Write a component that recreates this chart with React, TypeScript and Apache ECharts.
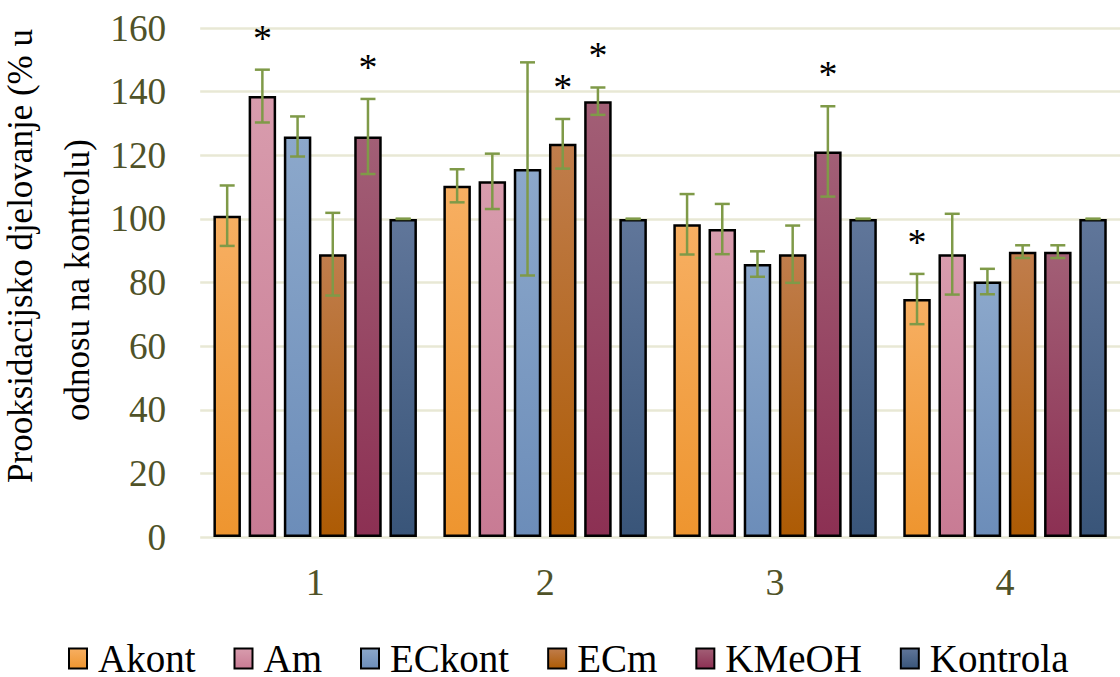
import React, { useEffect, useRef } from "react";
import * as echarts from "echarts";

const categories = ["1", "2", "3", "4"];
const seriesNames = ["Akont", "Am", "ECkont", "ECm", "KMeOH", "Kontrola"];

const akont = [101.0, 110.4, 98.3, 74.8];
const am = [138.6, 111.8, 96.8, 88.9];
const eckont = [125.9, 115.7, 85.8, 80.3];
const ecm = [88.9, 123.6, 88.9, 89.7];
const kmeoh = [125.9, 137.0, 121.2, 89.7];
const kontrola = [100, 100, 100, 100];

const akontErr = [9.5, 5.2, 9.5, 7.9];
const amErr = [8.3, 8.7, 7.9, 12.7];
const eckontErr = [6.3, 33.5, 4.0, 4.0];
const ecmErr = [13.0, 7.8, 9.0, 2.0];
const kmeohErr = [11.8, 4.3, 14.2, 2.0];
const kontrolaErr = [0, 0, 0, 0];

// 1 = marked with an asterisk (significant)
const akontSig = [0, 0, 0, 1];
const amSig = [1, 0, 0, 0];
const eckontSig = [0, 0, 0, 0];
const ecmSig = [0, 1, 0, 0];
const kmeohSig = [1, 1, 1, 0];
const kontrolaSig = [0, 0, 0, 0];

const yTicks = { min: 0, max: 160, interval: 20 };

const FONT = "'Liberation Serif', 'Times New Roman', serif";
const gradients: [string, string][] = [
  ["#F7AF62", "#EE952F"],
  ["#D89CAD", "#C87B94"],
  ["#8CA8CB", "#6C8DB9"],
  ["#C07D4C", "#AD5B04"],
  ["#A25F76", "#8C3053"],
  ["#60769A", "#395579"],
];

const BAR_W = 27.5;
const BAR_GAP = 0.28;
const STEP = BAR_W * (1 + BAR_GAP);
const ERR_COLOR = "#7F9A48";

export default function App() {
  const ref = useRef<HTMLDivElement>(null);
  useEffect(() => {
    if (!ref.current) return;
    const chart = echarts.init(ref.current, null, { renderer: "svg" });
    const values = [akont, am, eckont, ecm, kmeoh, kontrola];
    const errs = [akontErr, amErr, eckontErr, ecmErr, kmeohErr, kontrolaErr];
    const sigs = [akontSig, amSig, eckontSig, ecmSig, kmeohSig, kontrolaSig];

    const barSeries = seriesNames.map((name, si) => ({
      name,
      type: "bar",
      data: values[si],
      barWidth: BAR_W,
      barGap: `${BAR_GAP * 100}%`,
      itemStyle: {
        color: new echarts.graphic.LinearGradient(0, 0, 0, 1, [
          { offset: 0, color: gradients[si][0] },
          { offset: 1, color: gradients[si][1] },
        ]),
        borderColor: "#000",
        borderWidth: 2.5,
      },
    }));

    const errData: number[][] = [];
    seriesNames.forEach((_, si) => {
      categories.forEach((_, ci) => {
        errData.push([ci, values[si][ci], errs[si][ci], si, sigs[si][ci]]);
      });
    });

    const titleStyle = {
      fontFamily: FONT,
      fontSize: 35,
      fill: "#000",
      textAlign: "center",
      textVerticalAlign: "middle",
    };

    const option: any = {
      animation: false,
      backgroundColor: "#fff",
      textStyle: { fontFamily: FONT },
      grid: { left: 200.2, right: -8.5, top: 28, bottom: 140 },
      xAxis: {
        type: "category",
        data: categories,
        axisLine: { show: false },
        axisTick: { show: false },
        axisLabel: { color: "#4F5228", fontFamily: FONT, fontSize: 38, margin: 26 },
      },
      yAxis: {
        type: "value",
        min: yTicks.min,
        max: yTicks.max,
        interval: yTicks.interval,
        axisLine: { show: false },
        axisTick: { show: false },
        splitLine: { lineStyle: { color: "#E8E8D5", width: 2.5 } },
        axisLabel: { color: "#4F5228", fontFamily: FONT, fontSize: 37.3, margin: 34 },
      },
      legend: {
        data: seriesNames,
        left: 68,
        top: 639,
        padding: 0,
        icon: "rect",
        itemWidth: 18,
        itemHeight: 20,
        itemGap: 38,
        textStyle: {
          color: "#000",
          fontFamily: FONT,
          fontSize: 39,
          padding: [0, 0, 0, 6],
        },
      },
      graphic: [
        {
          type: "text",
          x: 20,
          y: 256,
          rotation: Math.PI / 2,
          style: { ...titleStyle, text: "Prooksidacijsko djelovanje (% u" },
        },
        {
          type: "text",
          x: 77,
          y: 280,
          rotation: Math.PI / 2,
          style: { ...titleStyle, text: "odnosu na kontrolu)" },
        },
      ],
      series: [
        ...barSeries,
        {
          name: "errors",
          type: "custom",
          z: 5,
          encode: { x: 0, y: 1 },
          data: errData,
          renderItem: (params: any, api: any) => {
            const ci = api.value(0);
            const v = api.value(1);
            const e = api.value(2);
            const si = api.value(3);
            const sig = api.value(4);
            const hi = api.coord([ci, v + e]);
            const lo = api.coord([ci, v - e]);
            const x = hi[0] + (si - 2.5) * STEP;
            const style = { stroke: ERR_COLOR, lineWidth: 2.5 };
            const children: any[] = [
              { type: "line", shape: { x1: x, y1: hi[1], x2: x, y2: lo[1] }, style },
              { type: "line", shape: { x1: x - 7.5, y1: hi[1], x2: x + 7.5, y2: hi[1] }, style },
              { type: "line", shape: { x1: x - 7.5, y1: lo[1], x2: x + 7.5, y2: lo[1] }, style },
            ];
            if (sig) {
              children.push({
                type: "text",
                x,
                y: hi[1] - 32,
                style: {
                  text: "*",
                  fontFamily: FONT,
                  fontSize: 38,
                  fill: "#000",
                  textAlign: "center",
                  textVerticalAlign: "middle",
                },
              });
            }
            return { type: "group", children };
          },
        },
      ],
    };
    chart.setOption(option);
    return () => chart.dispose();
  }, []);
  return (
    <div
      ref={ref}
      style={{ position: "absolute", left: 0, top: 0, width: 1120, height: 677 }}
    />
  );
}
